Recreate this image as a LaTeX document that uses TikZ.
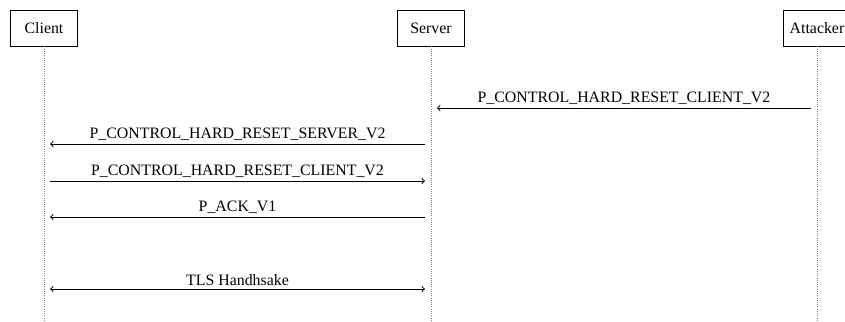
\documentclass[tikz,border=0pt]{standalone}
\usepackage{fontspec}
\setmainfont{Liberation Serif}
\usetikzlibrary{calc}

\tikzset{
    actor/.style={draw, semithick, minimum width=42.8pt, minimum height=22.7pt, inner sep=3pt},
    lifeline/.style={densely dotted, gray},
    msg/.style={->, semithick, shorten >=3.8pt, shorten <=3.8pt},
    both/.style={<->, semithick, shorten >=3.8pt, shorten <=3.8pt},
    lbl/.style={above, inner sep=2pt}
}

\begin{document}
\begin{tikzpicture}[x=0.63pt, y=-0.63pt]
    \useasboundingbox (0,0) rectangle (845,322);
    \node[actor] (client) at (44,28) {Client};
    \node[actor] (server) at (431,28) {Server};
    \node[actor] (attacker) at (817,28) {Attacker};
    \draw[lifeline] (client.south) -- (client.south |- 0,322);
    \draw[lifeline] (server.south) -- (server.south |- 0,322);
    \draw[lifeline] (attacker.south) -- (attacker.south |- 0,322);
    % message rows
    \coordinate (a1) at (attacker |- 0,108);
    \coordinate (s1) at (server |- 0,108);
    \coordinate (s2) at (server |- 0,144);
    \coordinate (c2) at (client |- 0,144);
    \coordinate (c3) at (client |- 0,181);
    \coordinate (s3) at (server |- 0,181);
    \coordinate (s4) at (server |- 0,217);
    \coordinate (c4) at (client |- 0,217);
    \coordinate (c5) at (client |- 0,289);
    \coordinate (s5) at (server |- 0,289);
    \draw[msg] (a1) -- node[lbl]{P\_CONTROL\_HARD\_RESET\_CLIENT\_V2} (s1);
    \draw[msg] (s2) -- node[lbl]{P\_CONTROL\_HARD\_RESET\_SERVER\_V2} (c2);
    \draw[msg] (c3) -- node[lbl]{P\_CONTROL\_HARD\_RESET\_CLIENT\_V2} (s3);
    \draw[msg] (s4) -- node[lbl]{P\_ACK\_V1} (c4);
    \draw[both] (c5) -- node[lbl]{TLS Handhsake} (s5);
\end{tikzpicture}
\end{document}
